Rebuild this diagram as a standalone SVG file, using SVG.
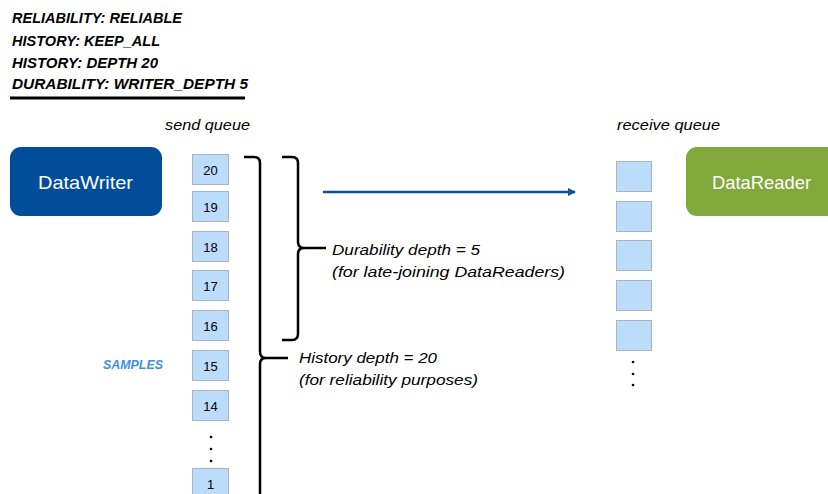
<svg xmlns="http://www.w3.org/2000/svg" width="828" height="494" viewBox="0 0 828 494">
<style>
.qos{font-family:"Liberation Sans",Arial,sans-serif;font-weight:bold;font-style:italic;font-size:15px;fill:#000}
.lbl{font-family:"Liberation Sans",Arial,sans-serif;font-style:italic;font-size:15px;fill:#000}
.num{font-family:"Liberation Sans",Arial,sans-serif;font-size:13px;fill:#000;text-anchor:middle}
.box{fill:#bcdcfc;stroke:#a9b4c0;stroke-width:1}
.ntxt{font-family:"Liberation Sans",Arial,sans-serif;font-size:19px;fill:#fff}
.brace{fill:none;stroke:#000;stroke-width:2.5;stroke-linejoin:round}
.dot{fill:#000}
</style>
<defs>
<marker id="ah" markerWidth="8" markerHeight="8" refX="7" refY="4" orient="auto" markerUnits="userSpaceOnUse">
<path d="M0,0 L8,4 L0,8 Z" fill="#0d4f9c"/>
</marker>
</defs>
<rect width="828" height="494" fill="#fff"/>
<g id="qos-settings">
<text class="qos" x="12" y="23" textLength="170" lengthAdjust="spacingAndGlyphs">RELIABILITY: RELIABLE</text>
<text class="qos" x="12" y="46" textLength="148" lengthAdjust="spacingAndGlyphs">HISTORY: KEEP_ALL</text>
<text class="qos" x="12" y="68" textLength="146" lengthAdjust="spacingAndGlyphs">HISTORY: DEPTH 20</text>
<text class="qos" x="12" y="89" textLength="236" lengthAdjust="spacingAndGlyphs">DURABILITY: WRITER_DEPTH 5</text>
<line x1="10" y1="98" x2="245" y2="98" stroke="#000" stroke-width="3"/>
</g>
<g id="datawriter">
<rect x="10" y="147" width="152" height="69" rx="11" fill="#024d9a"/>
<text class="ntxt" x="38" y="189" textLength="95" lengthAdjust="spacingAndGlyphs">DataWriter</text>
</g>
<g id="datareader">
<rect x="686" y="147" width="152" height="69" rx="11" fill="#80a83a"/>
<text class="ntxt" x="712" y="189" textLength="99" lengthAdjust="spacingAndGlyphs">DataReader</text>
</g>
<g id="send-queue">
<text class="lbl" x="165" y="130" textLength="85" lengthAdjust="spacingAndGlyphs">send queue</text>
<rect class="box" x="192.5" y="154.5" width="36" height="30"/><text class="num" x="210.5" y="174.5">20</text>
<rect class="box" x="192.5" y="191.5" width="36" height="30"/><text class="num" x="210.5" y="211.5">19</text>
<rect class="box" x="192.5" y="231.5" width="36" height="30"/><text class="num" x="210.5" y="251.5">18</text>
<rect class="box" x="192.5" y="270.5" width="36" height="30"/><text class="num" x="210.5" y="290.5">17</text>
<rect class="box" x="192.5" y="310.5" width="36" height="30"/><text class="num" x="210.5" y="330.5">16</text>
<rect class="box" x="192.5" y="350.5" width="36" height="30"/><text class="num" x="210.5" y="370.5">15</text>
<rect class="box" x="192.5" y="390.5" width="36" height="30"/><text class="num" x="210.5" y="410.5">14</text>
<circle class="dot" cx="211" cy="437" r="1.3"/>
<circle class="dot" cx="211" cy="449" r="1.3"/>
<circle class="dot" cx="211" cy="461" r="1.3"/>
<rect class="box" x="192.5" y="468.5" width="36" height="30"/><text class="num" x="210.5" y="488.5">1</text>
<text x="103" y="369" font-family="'Liberation Sans',Arial,sans-serif" font-weight="bold" font-style="italic" font-size="13" fill="#3d8fe3" textLength="60" lengthAdjust="spacingAndGlyphs">SAMPLES</text>
</g>
<g id="receive-queue">
<text class="lbl" x="617" y="130" textLength="103" lengthAdjust="spacingAndGlyphs">receive queue</text>
<rect class="box" x="616.5" y="161.5" width="35" height="30"/>
<rect class="box" x="616.5" y="201.5" width="35" height="30"/>
<rect class="box" x="616.5" y="240.5" width="35" height="30"/>
<rect class="box" x="616.5" y="280.5" width="35" height="30"/>
<rect class="box" x="616.5" y="320.5" width="35" height="30"/>
<circle class="dot" cx="633" cy="362" r="1.3"/>
<circle class="dot" cx="633" cy="374" r="1.3"/>
<circle class="dot" cx="633" cy="385" r="1.3"/>
</g>
<g id="connectors">
<line x1="323" y1="192" x2="575" y2="192" stroke="#0d4f9c" stroke-width="2.5" marker-end="url(#ah)"/>
<path class="brace" d="M244,157 L254,157 Q260,157 260,163 L260,352 Q260,358 266,358 L288,358 M266,358 Q260,358 260,364 L260,496"/>
<path class="brace" d="M282,157 L292,157 Q298,157 298,163 L298,242 Q298,248 304,248 L326,248 M304,248 Q298,248 298,254 L298,334 Q298,340 292,340 L282,340"/>
</g>
<g id="annotations">
<text class="lbl" x="332" y="255" textLength="148" lengthAdjust="spacingAndGlyphs">Durability depth = 5</text>
<text class="lbl" x="332" y="277" textLength="233" lengthAdjust="spacingAndGlyphs">(for late-joining DataReaders)</text>
<text class="lbl" x="299" y="363" textLength="138" lengthAdjust="spacingAndGlyphs">History depth = 20</text>
<text class="lbl" x="299" y="385" textLength="179" lengthAdjust="spacingAndGlyphs">(for reliability purposes)</text>
</g>
</svg>
